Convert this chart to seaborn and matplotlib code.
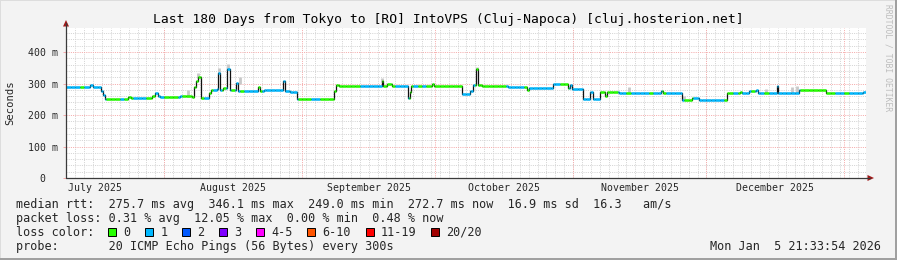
import matplotlib
matplotlib.use("Agg")
import matplotlib.pyplot as plt
import numpy as np
import pandas as pd
import seaborn as sns
from matplotlib.lines import Line2D
from matplotlib.patches import Rectangle, Polygon

# ---------------- data ----------------
title = "Last 180 Days from Tokyo to [RO] IntoVPS (Cluj-Napoca) [cluj.hosterion.net]"
y_label = "Seconds"
watermark = "RRDTOOL / TOBI OETIKER"

# time in days since 2025-07-01 00:00
x_start_day = 8.899
x_end_day = 188.899
month_start_day = [31, 62, 92, 123, 153, 184]
month_label_day = [15.5, 46.5, 77.0, 107.5, 138.0, 168.5]
month_labels = ["July 2025", "August 2025", "September 2025",
                "October 2025", "November 2025", "December 2025"]

y_ticks = [0, 100, 200, 300, 400]
y_tick_labels = ["0  ", "100 m", "200 m", "300 m", "400 m"]

# median rtt (ms) as steps: value holds from start day until next start day
seg_start_day = [8.9, 14.3, 14.9, 16.7, 17.2, 17.6, 22.8, 23.6, 28.3, 28.9,
                 29.6, 30.1, 34.5, 37.3, 37.6, 38.1, 38.6, 39.2, 41.1, 41.5,
                 42.8, 43.2, 43.6, 44.2, 45.2, 45.7, 47.2, 47.6, 52.0, 52.6,
                 53.4, 57.7, 58.1, 59.3, 60.9, 69.3, 69.7, 70.3, 79.9, 80.3,
                 81.2, 82.2, 85.8, 86.2, 86.5, 91.3, 91.7, 97.9, 99.8, 100.5,
                 101.2, 101.7, 102.4, 108.3, 110.5, 112.7, 113.1, 118.4, 121.8, 122.3,
                 122.7, 125.3, 126.9, 127.4, 129.1, 130.2, 130.6, 133.4, 142.8, 143.2,
                 147.4, 149.7, 151.4, 157.7, 160.6, 161.0, 162.6, 164.2, 164.6, 168.8,
                 169.2, 173.9, 180.0, 188.3]
seg_median_ms = [288, 296, 288, 276, 263, 252, 258, 253, 262, 269,
                 262, 256, 259, 256, 290, 308, 320, 254, 270, 278,
                 284, 335, 279, 285, 346, 279, 301, 277, 290, 275,
                 278, 307, 275, 272, 252, 275, 294, 291, 309, 291,
                 300, 291, 254, 272, 291, 298, 291, 267, 275, 296,
                 346, 296, 292, 289, 288, 280, 286, 299, 286, 295,
                 283, 252, 272, 252, 272, 259, 272, 270, 277, 270,
                 249, 254, 249, 270, 274, 270, 276, 280, 270, 291,
                 270, 280, 270, 273]

# packet-loss class per day (0 = no loss, 1 = one of 20 lost), days 9..188
loss_first_day = 9
loss_per_day = [1, 1, 1, 0, 1, 1, 1, 1, 1, 0,
                0, 0, 1, 0, 0, 1, 1, 1, 0, 0,
                1, 1, 0, 0, 0, 1, 0, 0, 0, 0,
                0, 1, 0, 1, 1, 0, 1, 0, 1, 0,
                1, 1, 1, 0, 1, 1, 1, 1, 1, 1,
                1, 1, 0, 0, 0, 1, 1, 0, 0, 0,
                0, 0, 0, 0, 0, 0, 1, 1, 1, 1,
                1, 0, 0, 0, 1, 1, 1, 0, 1, 0,
                1, 0, 0, 0, 0, 0, 0, 0, 0, 1,
                1, 1, 0, 0, 0, 0, 0, 0, 0, 1,
                1, 1, 1, 0, 1, 1, 1, 1, 1, 1,
                1, 0, 0, 1, 1, 1, 1, 1, 1, 1,
                0, 0, 0, 0, 1, 1, 0, 1, 1, 1,
                1, 0, 1, 1, 0, 1, 1, 1, 1, 0,
                0, 1, 1, 1, 1, 1, 1, 1, 0, 0,
                1, 0, 1, 1, 0, 1, 1, 0, 1, 1,
                1, 1, 1, 1, 1, 0, 0, 0, 0, 0,
                0, 0, 0, 1, 1, 0, 1, 1, 1, 1]

# smoke (spread of pings) where visible
smoke_day = [36.3, 38.6, 43.3, 45.4, 48.0, 80.0, 101.3, 135.6, 147.9, 166.5, 172.2, 173.4]
smoke_low_ms = [256, 318, 334, 345, 300, 305, 345, 272, 250, 270, 270, 270]
smoke_high_ms = [280, 335, 350, 362, 322, 318, 352, 290, 262, 284, 288, 291]

legend_rows = [
    "median rtt:  275.7 ms avg  346.1 ms max  249.0 ms min  272.7 ms now  16.9 ms sd  16.3   am/s",
    "packet loss: 0.31 % avg  12.05 % max  0.00 % min  0.48 % now",
]
loss_row_label = "loss color:"
loss_legend_labels = ["0", "1", "2", "3", "4-5", "6-10", "11-19", "20/20"]
loss_legend_colors = ["#26ff00", "#00b8ff", "#0059ff", "#7e00ff",
                      "#ff00ff", "#ff5500", "#ff0000", "#a10000"]
probe_row = "probe:       20 ICMP Echo Pings (56 Bytes) every 300s"
stamp = "Mon Jan  5 21:33:54 2026"

# ---------------- style ----------------
W, H = 897, 260
sns.set_theme(style="white")
plt.rcParams["font.family"] = ["DejaVu Sans Mono", "DejaVu Sans"]
BG = "#F3F3F3"
MINOR = "#D4D4D4"
MAJOR = "#F5ABAB"

def fx(px):
    return px / W

def fy(py):
    return 1 - py / H

fig = plt.figure(figsize=(W / 100, H / 100), dpi=100, facecolor=BG)
ax_l, ax_r, ax_t, ax_b = 66, 866, 27.5, 178
ax = fig.add_axes([fx(ax_l), fy(ax_b), fx(ax_r - ax_l), (ax_b - ax_t) / H])
ax.set_facecolor("white")
ax.set_xlim(x_start_day, x_end_day)
ax.set_ylim(0, 478)
for s in ax.spines.values():
    s.set_visible(False)

# grid
for d in np.arange(31 - 2 * 11, x_end_day, 2):
    if d > x_start_day:
        ax.axvline(d, color=MINOR, lw=0.72, ls=(0, (1, 1.2)), zorder=0, snap=True)
for v in range(20, 478, 20):
    if v % 100:
        ax.axhline(v, color=MINOR, lw=0.72, ls=(0, (1, 1.2)), zorder=0, snap=True)
for d in month_start_day:
    ax.axvline(d, color=MAJOR, lw=0.72, ls=(0, (1, 1.2)), zorder=1, snap=True)
for v in y_ticks[1:]:
    ax.axhline(v, color=MAJOR, lw=0.72, ls=(0, (1, 1.2)), zorder=1, snap=True)

# smoke
ax.vlines(smoke_day, smoke_low_ms, smoke_high_ms, color="#C8C8C8", lw=2.0, zorder=2)

# median line (black steps) via seaborn
line_df = pd.DataFrame({"day": seg_start_day + [x_end_day],
                        "ms": seg_median_ms + [seg_median_ms[-1]]})
sns.lineplot(data=line_df, x="day", y="ms", drawstyle="steps-post", color="#111111",
             lw=0.9, ax=ax, estimator=None, sort=False, zorder=3)

# loss coloured median pieces
loss_colors = {0: loss_legend_colors[0], 1: loss_legend_colors[1]}
day_edges = np.arange(loss_first_day, loss_first_day + len(loss_per_day))
cuts = np.unique(np.concatenate([np.array(seg_start_day), day_edges, [x_end_day]]))
cuts = cuts[(cuts >= seg_start_day[0]) & (cuts <= x_end_day)]
starts, ends = cuts[:-1], cuts[1:]
idx = np.searchsorted(np.array(seg_start_day), starts, side="right") - 1
vals = np.array(seg_median_ms)[idx]
bins = np.clip(np.floor(starts).astype(int) - loss_first_day, 0, len(loss_per_day) - 1)
cols = [loss_colors[loss_per_day[b]] for b in bins]
ax.hlines(vals, starts, ends, colors=cols, lw=1.8, zorder=4, capstyle="butt")

# ticks
ax.set_xlabel("")
ax.set_ylabel("")
ax.set_yticks(y_ticks)
ax.set_yticklabels(y_tick_labels, fontsize=7.1)
ax.tick_params(axis="y", length=2.5, width=0.72, color=MAJOR, pad=3.5, left=True)
ax.set_xticks(month_label_day)
ax.set_xticklabels(month_labels, fontsize=7.1)
ax.tick_params(axis="x", length=0, pad=3.5)

# axes with arrows
AX = "#3a3a3a"
AR = "#a01a1a"
fig.add_artist(Line2D([fx(ax_l), fx(870)], [fy(ax_b), fy(ax_b)], color=AX, lw=0.9))
fig.add_artist(Line2D([fx(ax_l), fx(ax_l)], [fy(ax_b), fy(23)], color=AX, lw=0.9))
fig.add_artist(Polygon([(fx(874), fy(ax_b)), (fx(867.5), fy(ax_b - 3)), (fx(867.5), fy(ax_b + 3))],
                       closed=True, color=AR, lw=0))
fig.add_artist(Polygon([(fx(ax_l), fy(20)), (fx(ax_l - 3), fy(26.5)), (fx(ax_l + 3), fy(26.5))],
                       closed=True, color=AR, lw=0))

# texts
fig.text(fx(448), fy(19.3), title, ha="center", va="center", fontsize=9.4, color="black")
fig.text(fx(10.5), fy(103), y_label, ha="center", va="center", rotation=90, fontsize=7.6)
fig.text(fx(888), fy(58), watermark, ha="center", va="center", rotation=270,
         fontsize=5.8, color="#BDBDBD")

LX = 16
FS = 8.5
fig.text(fx(LX), fy(204.3), legend_rows[0], ha="left", va="center", fontsize=FS)
fig.text(fx(LX), fy(218.3), legend_rows[1], ha="left", va="center", fontsize=FS)
fig.text(fx(LX), fy(232.3), loss_row_label, ha="left", va="center", fontsize=FS)
bx = 108.0
for lab, col in zip(loss_legend_labels, loss_legend_colors):
    fig.add_artist(Rectangle((fx(bx), fy(236.3)), fx(8), 8 / H, facecolor=col,
                             edgecolor="black", lw=0.7))
    fig.text(fx(bx + 15.3), fy(232.3), lab, ha="left", va="center", fontsize=FS)
    bx += 15.0 + len(lab) * 7.12 + 14.9
fig.text(fx(LX), fy(246.3), probe_row, ha="left", va="center", fontsize=FS)
fig.text(fx(881), fy(246.3), stamp, ha="right", va="center", fontsize=FS)

# 3D-ish border
fig.add_artist(Rectangle((0, fy(1)), 1, 1 / H, facecolor="#DDDDDD", lw=0))
fig.add_artist(Rectangle((0, 0), 1 / W, 1, facecolor="#DDDDDD", lw=0))
fig.add_artist(Rectangle((0, 0), 1, 2.5 / H, facecolor="#A0A0A0", lw=0))
fig.add_artist(Rectangle((fx(W - 2.5), 0), 2.5 / W, 1, facecolor="#A0A0A0", lw=0))

fig.savefig("out.png", dpi=100, facecolor=BG)
